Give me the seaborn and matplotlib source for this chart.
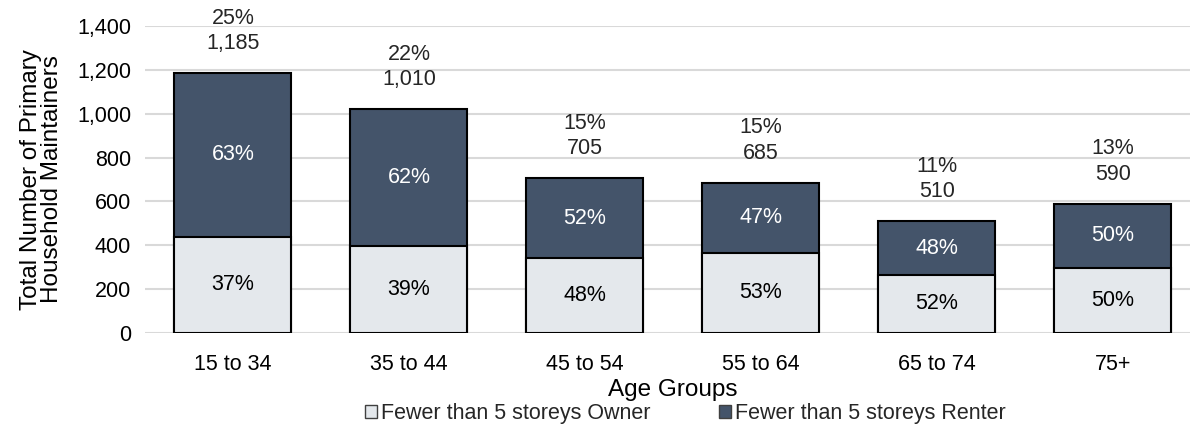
import pandas as pd
import seaborn as sns
import matplotlib.pyplot as plt
from matplotlib.patches import Patch

# data
age_groups = ["15 to 34", "35 to 44", "45 to 54", "55 to 64", "65 to 74", "75+"]
owner = [440, 395, 340, 365, 265, 295]
renter = [745, 625, 365, 320, 245, 295]
totals = [1185, 1010, 705, 685, 510, 590]
owner_pct = ["37%", "39%", "48%", "53%", "52%", "50%"]
renter_pct = ["63%", "62%", "52%", "47%", "48%", "50%"]
share_pct = ["25%", "22%", "15%", "15%", "11%", "13%"]

df = pd.DataFrame({"age": age_groups, "owner": owner, "renter": renter})
df["stack"] = df["owner"] + df["renter"]

owner_col = "#E4E8EC"
renter_col = "#44546A"

sns.set_theme(style="white")
plt.rcParams["font.family"] = ["Liberation Sans", "DejaVu Sans"]

fig = plt.figure(figsize=(11.9, 4.38), dpi=100)
ax = fig.add_axes([0.1218, 0.2397, 0.8874, 0.7009])

# renter on top: draw full stack first, then owner over the bottom part
sns.barplot(data=df, x="age", y="stack", color=renter_col, saturation=1,
            width=0.665, edgecolor="black", linewidth=1.5, ax=ax, zorder=3)
sns.barplot(data=df, x="age", y="owner", color=owner_col, saturation=1,
            width=0.665, edgecolor="black", linewidth=1.5, ax=ax, zorder=3)

fs = 15.5
for i, row in df.iterrows():
    ax.text(i, row["owner"] / 2, owner_pct[i], ha="center", va="center",
            fontsize=fs, color="black", zorder=4)
    ax.text(i, row["owner"] + row["renter"] / 2, renter_pct[i], ha="center",
            va="center", fontsize=fs, color="white", zorder=4)
    ax.text(i, row["stack"] + 135, f"{totals[i]:,}", ha="center",
            va="center", fontsize=fs, clip_on=False)
    ax.text(i, row["stack"] + 250, share_pct[i], ha="center",
            va="center", fontsize=fs, clip_on=False)

ax.set_ylim(0, 1400)
ax.set_xlim(-0.5, 5.5)
ax.set_yticks(range(0, 1401, 200))
ax.set_yticklabels([f"{v:,}" for v in range(0, 1401, 200)])
ax.yaxis.grid(True, color="#D9D9D9", linewidth=1.5, zorder=0)
ax.set_axisbelow(True)
for s in ax.spines.values():
    s.set_visible(False)
ax.tick_params(axis="both", length=0, labelsize=fs, colors="black")
ax.tick_params(axis="x", pad=15)
ax.tick_params(axis="y", pad=10)

ax.set_xlabel("Age Groups", fontsize=17.5, color="black", labelpad=3)
ax.set_ylabel("Total Number of Primary\nHousehold Maintainers",
              fontsize=17.5, color="black", labelpad=10, linespacing=0.95)

handles = [Patch(facecolor=owner_col, edgecolor="#404040", linewidth=1),
           Patch(facecolor=renter_col, edgecolor="#404040", linewidth=1)]
fig.legend(handles, ["Fewer than 5 storeys Owner", "Fewer than 5 storeys Renter"],
           loc="center", bbox_to_anchor=(0.576, 0.055), ncol=2, frameon=False,
           fontsize=fs, handlelength=0.55, handleheight=0.55, handletextpad=0.2,
           columnspacing=3.2)

plt.savefig("out.png", dpi=100)
